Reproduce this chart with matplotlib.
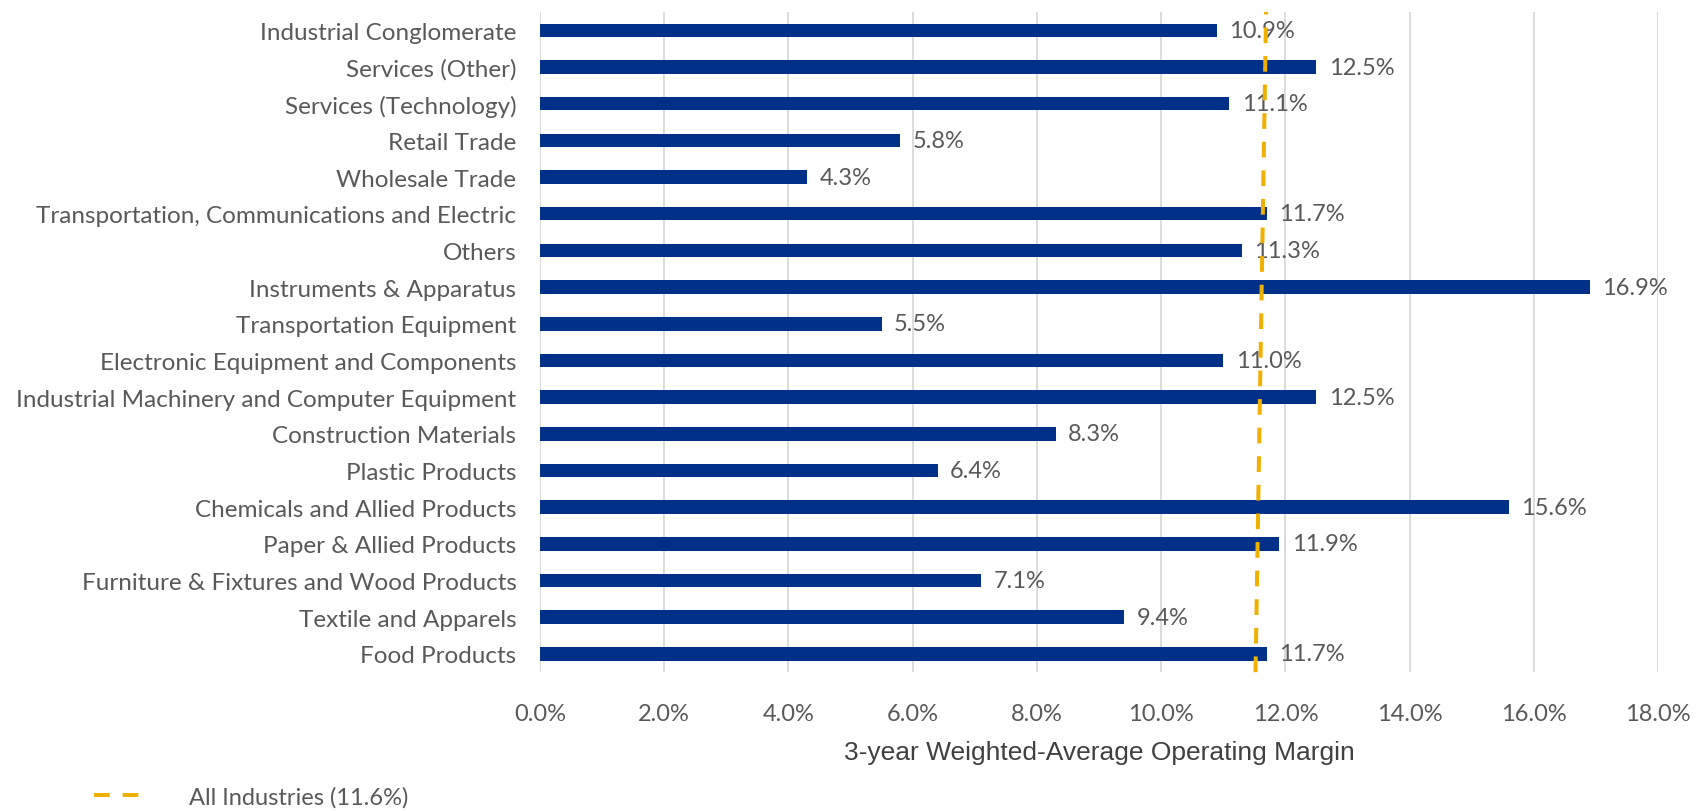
import matplotlib
matplotlib.use("Agg")
import matplotlib.pyplot as plt
from matplotlib.lines import Line2D

# data (bottom to top)
industries = [
    "Food Products",
    "Textile and Apparels",
    "Furniture & Fixtures and Wood Products",
    "Paper & Allied Products",
    "Chemicals and Allied Products",
    "Plastic Products",
    "Construction Materials",
    "Industrial Machinery and Computer Equipment",
    "Electronic Equipment and Components",
    "Transportation Equipment",
    "Instruments & Apparatus",
    "Others",
    "Transportation, Communications and Electric",
    "Wholesale Trade",
    "Retail Trade",
    "Services (Technology)",
    "Services (Other)",
    "Industrial Conglomerate",
]
margins = [11.7, 9.4, 7.1, 11.9, 15.6, 6.4, 8.3, 12.5, 11.0, 5.5,
           16.9, 11.3, 11.7, 4.3, 5.8, 11.1, 12.5, 10.9]

# all-industries reference line (drawn slightly skewed in the source)
avg_x = [11.52, 11.69]
avg_label = "All Industries (11.6%)"
x_ticks = [0, 2, 4, 6, 8, 10, 12, 14, 16, 18]

bar_color = "#003087"
line_color = "#F0B000"
text_color = "#595959"
label_font = ["Lato", "DejaVu Sans"]
fs = 17.5
dash = (3.9, 3.2)

fig = plt.figure(figsize=(16.96, 8.12), dpi=100)
ax = fig.add_axes([0.3184, 0.171, 0.6592, 0.813])

ypos = list(range(len(industries)))
ax.barh(ypos, margins, height=0.37, color=bar_color, zorder=2)

for y, v in zip(ypos, margins):
    ax.text(v + 0.2, y, f"{v:.1f}%", va="center", ha="left",
            fontsize=17, color=text_color, family=label_font, zorder=3)

ax.plot(avg_x, [-0.5, len(industries) - 0.5], color=line_color, lw=2.9,
        dashes=dash, zorder=4, clip_on=False)

ax.set_xlim(0, 18)
ax.set_ylim(-0.5, len(industries) - 0.5)
ax.set_xticks(x_ticks)
ax.set_xticklabels([f"{t:.1f}%" for t in x_ticks])
ax.set_yticks(ypos)
ax.set_yticklabels(industries)
for lab in ax.get_yticklabels():
    lab.set_family(label_font)
    lab.set_fontsize(fs)
    lab.set_color(text_color)
for lab in ax.get_xticklabels():
    lab.set_family(label_font)
    lab.set_fontsize(17)
    lab.set_color(text_color)
ax.tick_params(axis="both", length=0)
ax.tick_params(axis="y", pad=17)
ax.tick_params(axis="x", pad=22)

ax.grid(axis="x", color="#D9D9D9", lw=1.3, zorder=0)
for s in ax.spines.values():
    s.set_visible(False)

ax.set_xlabel("3-year Weighted-Average Operating Margin", fontsize=19,
              color="#404040", family=["Liberation Sans", "DejaVu Sans"],
              labelpad=12)

handle = Line2D([0], [0], color=line_color, lw=2.9, dashes=dash)
fig.legend([handle], [avg_label], loc="lower left",
           bbox_to_anchor=(0.043, -0.022), frameon=False, handlelength=2.0,
           handletextpad=2.0,
           prop={"family": label_font, "size": 17},
           labelcolor=text_color)

fig.savefig("out.png", dpi=100)
